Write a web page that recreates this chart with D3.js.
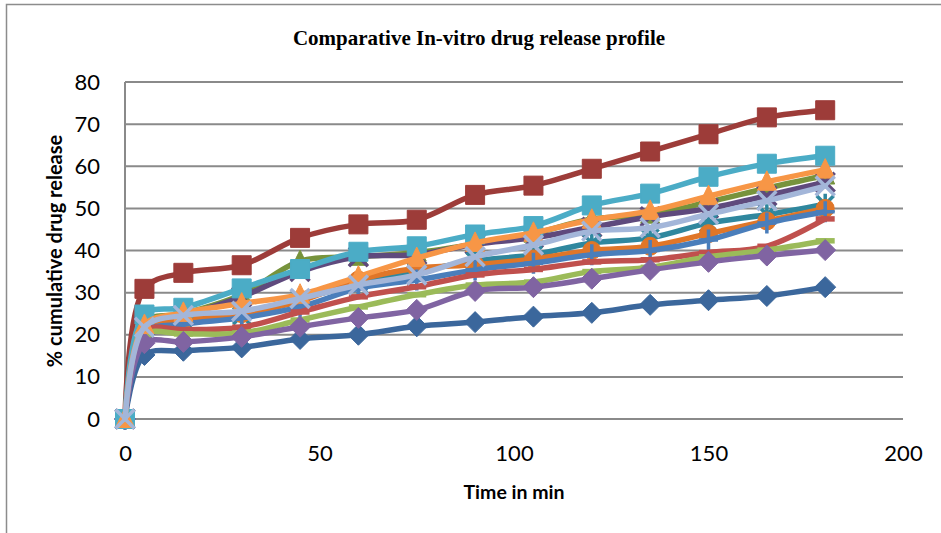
<!DOCTYPE html>
<html><head><meta charset="utf-8">
<script src="https://cdn.jsdelivr.net/npm/d3@7"></script>
<style>body{margin:0;background:#fff}</style>
</head><body>
<svg id="chart" width="941" height="533"></svg>
<script>
// ---- data ----
const times = [0, 5, 15, 30, 45, 60, 75, 90, 105, 120, 135, 150, 165, 180];
const f1  = [0, 15.2, 16.2, 17.0, 19.0, 20.0, 22.0, 23.0, 24.3, 25.2, 27.1, 28.2, 29.2, 31.3];
const f2  = [0, 30.9, 34.7, 36.5, 43.0, 46.2, 47.3, 53.2, 55.4, 59.4, 63.5, 67.6, 71.6, 73.3];
const f3  = [0, 23.0, 25.0, 29.5, 37.5, 38.5, 39.5, 41.5, 44.0, 47.5, 48.5, 51.5, 54.8, 57.8];
const f4  = [0, 22.0, 24.5, 29.0, 35.0, 38.5, 39.0, 41.5, 43.0, 45.5, 48.0, 50.0, 53.0, 56.2];
const f5  = [0, 21.0, 24.0, 24.5, 28.5, 32.0, 35.0, 37.5, 39.0, 41.8, 43.0, 46.5, 48.5, 51.0];
const f6  = [0, 21.0, 23.5, 25.0, 28.0, 33.0, 35.8, 36.6, 38.0, 40.0, 41.0, 44.0, 47.0, 50.0];
const f7  = [0, 20.5, 22.5, 24.0, 26.6, 31.0, 33.0, 35.4, 37.0, 39.0, 40.0, 42.5, 46.5, 49.2];
const f8  = [0, 21.0, 21.2, 21.8, 25.4, 29.0, 31.4, 34.2, 35.5, 37.3, 37.8, 39.5, 41.0, 47.5];
const f9  = [0, 20.0, 20.2, 20.4, 23.5, 26.6, 29.5, 31.8, 32.5, 35.0, 36.0, 38.5, 40.1, 42.3];
const f10 = [0, 18.0, 18.3, 19.5, 21.9, 24.0, 25.9, 30.4, 31.3, 33.3, 35.4, 37.3, 38.8, 40.1];
const f11 = [0, 24.8, 26.4, 31.0, 35.6, 39.7, 41.0, 43.8, 45.8, 50.7, 53.5, 57.5, 60.6, 62.5];
const f12 = [0, 22.3, 25.2, 27.4, 29.5, 33.8, 38.2, 41.8, 44.2, 47.3, 49.4, 52.9, 56.3, 59.2];
const f13 = [0, 21.8, 24.6, 25.6, 28.6, 31.8, 34.2, 38.5, 41.3, 44.6, 45.4, 48.6, 51.8, 55.3];
const seriesValues = [f1, f2, f3, f4, f5, f6, f7, f8, f9, f10, f11, f12, f13];
const seriesNames = ["F1","F2","F3","F4","F5","F6","F7","F8","F9","F10","F11","F12","F13"];
const seriesColors = ["#3B679C","#9D3C39","#77933C","#5F4A7D","#2F879E","#E07628","#4A7EBB","#C0504D","#9BBB59","#8064A2","#4BACC6","#F79646","#A3B6D9"];
const seriesMarkers = ["diamond","square","triangle","x","star","circle","plus","dash","dash","diamond","square","triangle","x"];
const xTicks = [0, 50, 100, 150, 200];
const yTicks = [0, 10, 20, 30, 40, 50, 60, 70, 80];
const titleText = "Comparative In-vitro drug release profile";
const xTitle = "Time in min";
const yTitle = "% cumulative drug release";

// ---- layout ----
const svg = d3.select("#chart");
const pLeft = 125, pRight = 903, pTop = 82, pBottom = 419;
const x = d3.scaleLinear().domain([0, 200]).range([pLeft, pRight]);
const y = d3.scaleLinear().domain([0, 80]).range([pBottom, pTop]);

// outer border
svg.append("rect").attr("x", 6.5).attr("y", 4.5).attr("width", 960).attr("height", 560)
  .attr("fill", "#fff").attr("stroke", "#8c8c8c").attr("stroke-width", 1.5);

// title
svg.append("text").attr("x", 479).attr("y", 45).attr("text-anchor", "middle")
  .attr("font-family", "'Liberation Serif','Times New Roman',serif").attr("font-weight", "bold")
  .attr("font-size", 21).attr("fill", "#000").text(titleText);

// gridlines
const gridColor = "#8a8a8a";
svg.append("g").selectAll("line").data(yTicks).join("line")
  .attr("x1", pLeft).attr("x2", pRight).attr("y1", d => y(d)).attr("y2", d => y(d))
  .attr("stroke", gridColor).attr("stroke-width", 2);
svg.append("line").attr("x1", pLeft).attr("x2", pLeft).attr("y1", pTop).attr("y2", pBottom)
  .attr("stroke", gridColor).attr("stroke-width", 2);

// axes (labels via d3 axis)
const fontTick = "Lato, 'Open Sans', sans-serif";
const yAxis = svg.append("g").attr("transform", `translate(${pLeft},0)`)
  .call(d3.axisLeft(y).tickValues(yTicks).tickSize(0).tickPadding(25));
const xAxis = svg.append("g").attr("transform", `translate(0,${pBottom})`)
  .call(d3.axisBottom(x).tickValues(xTicks).tickSize(0).tickPadding(26));
[yAxis, xAxis].forEach(a => {
  a.select(".domain").remove();
  a.selectAll("text").attr("font-family", fontTick).attr("font-size", 22).attr("fill", "#000");
});

// axis titles
svg.append("text").attr("x", 514).attr("y", 499).attr("text-anchor", "middle")
  .attr("font-family", fontTick).attr("font-weight", "bold").attr("font-size", 19.5)
  .attr("fill", "#000").text(xTitle);
svg.append("text").attr("transform", "translate(62,251) rotate(-90)").attr("text-anchor", "middle")
  .attr("font-family", fontTick).attr("font-weight", "bold").attr("font-size", 20)
  .attr("fill", "#000").text(yTitle);

// markers
function markerPath(type) {
  const r = 9.5;
  switch (type) {
    case "diamond": return `M0,${-r - 1}L${r + 1},0L0,${r + 1}L${-r - 1},0Z`;
    case "square": return `M${-r},${-r}H${r}V${r}H${-r}Z`;
    case "triangle": return `M0,${-r - 1.5}L${r},${r - 1}L${-r},${r - 1}Z`;
    case "x": return `M${-r},${-r}L${r},${r}M${-r},${r}L${r},${-r}`;
    case "star": return `M${-r + 1},${-r + 1}L${r - 1},${r - 1}M${-r + 1},${r - 1}L${r - 1},${-r + 1}M0,${-r - 1}V${r + 1}`;
    case "plus": return `M${-r},0H${r}M0,${-r - 1}V${r + 1}`;
    case "dash": return `M${-r},0H${r}`;
  }
  return "";
}
const filled = new Set(["diamond","square","triangle"]);

const line = d3.line().x((d, i) => x(times[i])).y(d => y(d)).curve(d3.curveCatmullRom.alpha(0.5));
const gSeries = svg.append("g");
seriesValues.forEach((vals, si) => {
  const col = seriesColors[si];
  const g = gSeries.append("g").attr("class", "series").attr("data-name", seriesNames[si]);
  g.append("path").datum(vals).attr("d", line).attr("fill", "none").attr("stroke", col)
    .attr("stroke-width", 5.5).attr("stroke-linejoin", "round").attr("stroke-linecap", "round");
  const type = seriesMarkers[si];
  const pts = g.selectAll(".m").data(vals).join("g").attr("class", "m")
    .attr("transform", (d, i) => `translate(${x(times[i])},${y(d)})`);
  if (type === "circle") {
    pts.append("circle").attr("r", 9).attr("fill", col).attr("stroke", col);
  } else if (filled.has(type)) {
    pts.append("path").attr("d", markerPath(type)).attr("fill", col).attr("stroke", col).attr("stroke-width", 1);
  } else {
    pts.append("path").attr("d", markerPath(type)).attr("fill", "none").attr("stroke", col)
      .attr("stroke-width", type === "dash" ? 5.5 : 3.5);
  }
});
</script>
</body></html>
